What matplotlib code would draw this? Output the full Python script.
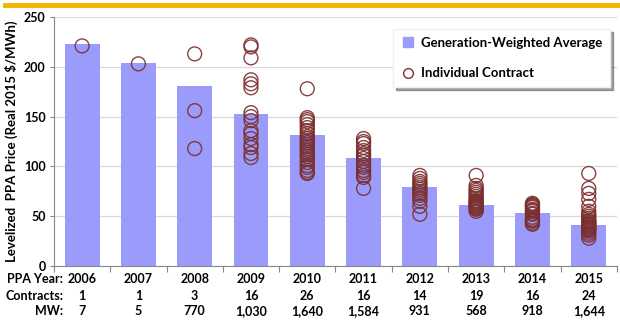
import numpy as np
import matplotlib.pyplot as plt
import matplotlib.transforms as mtransforms
from matplotlib.lines import Line2D

plt.rcParams['font.family'] = ['Lato', 'DejaVu Sans']
plt.rcParams['font.weight'] = 'bold'

years = ['2006', '2007', '2008', '2009', '2010', '2011', '2012', '2013', '2014', '2015']
contracts = ['1', '1', '3', '16', '26', '16', '14', '19', '16', '24']
mw = ['7', '5', '770', '1,030', '1,640', '1,584', '931', '568', '918', '1,644']

# generation-weighted average levelized price per year
avg_price = [223, 204, 181, 153, 132, 108, 79, 61, 53, 41]

# individual contract prices per year
contract_prices = [
    [221],
    [203],
    [213, 156, 118],
    [222, 220, 209, 187, 183, 179, 154, 150, 146, 136, 133, 128, 122, 119, 113, 109],
    [178, 149, 147, 145, 142, 139, 136, 133, 130, 128, 126, 124, 122, 120, 118, 116,
     114, 112, 110, 107, 104, 101, 99, 96, 94, 93],
    [128, 125, 123, 119, 116, 113, 111, 108, 105, 101, 99, 96, 94, 91, 89, 78],
    [91, 88, 85, 83, 81, 79, 77, 75, 73, 71, 68, 65, 60, 52],
    [91, 81, 78, 76, 74, 72, 70, 68, 66, 65, 64, 63, 62, 61, 60, 59, 58, 57, 55],
    [63, 62, 61, 60, 59, 57, 56, 55, 53, 52, 49, 47, 46, 45, 43, 42],
    [93, 78, 73, 67, 60, 55, 52, 50, 48, 46, 45, 44, 43, 42, 41, 40, 39, 38, 37, 36,
     35, 33, 31, 28],
]

bar_color = '#9b9bfb'
dot_color = '#7b2e2e'

fig = plt.figure(figsize=(6.2, 3.21), dpi=100)
ax = fig.add_axes([0.087, 0.171, 0.908, 0.776])

x = np.arange(len(years))
ax.bar(x, avg_price, width=0.62, color=bar_color, zorder=2)
for i, vals in enumerate(contract_prices):
    ax.scatter(np.full(len(vals), i), vals, s=100, facecolors='none',
               edgecolors=dot_color, linewidths=1.0, alpha=0.9, zorder=3)

ax.set_xlim(-0.5, len(years) - 0.5)
ax.set_ylim(0, 250)
ax.set_yticks(np.arange(0, 251, 50))
ax.yaxis.grid(True, color='#d9d9d9', linewidth=0.9, zorder=0)
ax.set_axisbelow(True)
ax.tick_params(axis='y', labelsize=9, length=3, color='#888888', pad=3)
ax.set_xticks(np.arange(-0.5, len(years), 1.0))
ax.set_xticklabels([])
ax.tick_params(axis='x', length=4, color='#888888')
for side in ['top', 'right']:
    ax.spines[side].set_visible(False)
for side in ['left', 'bottom']:
    ax.spines[side].set_color('#888888')

ax.set_ylabel('Levelized  PPA Price (Real 2015 $/MWh)', fontsize=9.5,
              fontweight='bold', labelpad=4)

# table of year / contract count / capacity below the axis
trans = mtransforms.blended_transform_factory(ax.transData, fig.transFigure)
rows = [('PPA Year:', years, 0.131), ('Contracts:', contracts, 0.078), ('MW:', mw, 0.030)]
for label, vals, yy in rows:
    fig.text(0.102, yy, label, ha='right', va='center', fontsize=9, fontweight='bold')
    for i, v in enumerate(vals):
        ax.text(i, yy, v, transform=trans, ha='center', va='center', fontsize=9,
                fontweight='bold')

handles = [
    Line2D([], [], marker='s', linestyle='none', markersize=7,
           markerfacecolor=bar_color, markeredgecolor=bar_color),
    Line2D([], [], marker='o', linestyle='none', markersize=7,
           markerfacecolor='none', markeredgecolor=dot_color, markeredgewidth=1),
]
leg = ax.legend(handles, ['Generation-Weighted Average', 'Individual Contract'],
                loc='upper right', bbox_to_anchor=(0.988, 0.952),
                prop={'size': 9.5, 'weight': 'bold'},
                frameon=True, shadow=True, fancybox=False, handletextpad=0.5,
                labelspacing=1.4, borderpad=0.6, borderaxespad=0, handlelength=1.0)
leg.get_frame().set_edgecolor('#f0f0f0')
leg.get_frame().set_facecolor('white')

# orange rule across the top
fig.add_artist(Line2D([0.008, 1.0], [0.983, 0.983], color='#f5b400', linewidth=3.5))

fig.savefig('out.png', dpi=100)
